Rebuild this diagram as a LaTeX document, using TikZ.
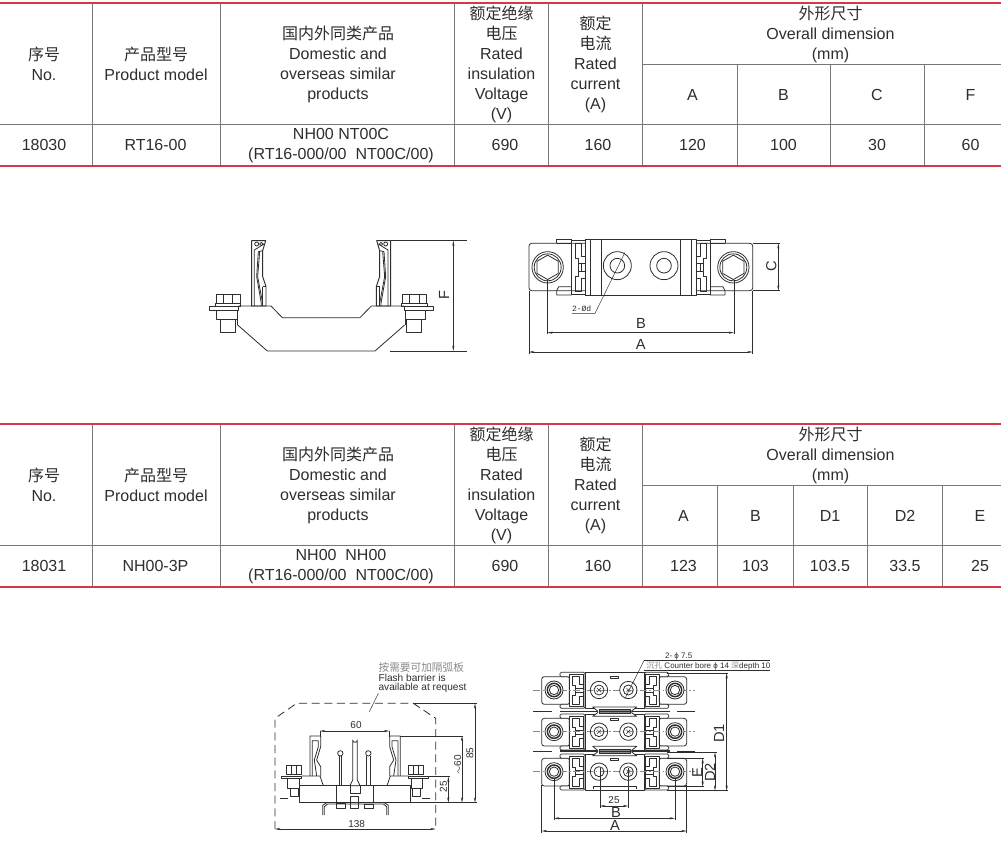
\documentclass[tikz,border=0pt]{standalone}
\usepackage{fontspec}
\setmainfont{Liberation Sans}
\newfontfamily\cjk{Noto Sans CJK SC}
\newfontfamily\monofnt{Liberation Mono}
\usetikzlibrary{calc,arrows.meta}
\definecolor{ink}{HTML}{2E2E2E}
\definecolor{muted}{HTML}{8A8A8A}
\definecolor{rule}{HTML}{D23A4C}
\definecolor{gridc}{HTML}{777777}
\tikzset{
  cell/.style={text=ink, align=center, font=\fontsize{12}{15}\selectfont, inner sep=0pt},
  redline/.style={draw=rule, line width=1.4pt},
  gridline/.style={draw=gridc, line width=0.5pt},
  part/.style={draw=ink, line width=0.6pt, line join=round},
  thin/.style={draw=ink, line width=0.35pt},
  centre/.style={draw=muted, line width=0.35pt, dash pattern=on 5pt off 2pt on 1pt off 2pt},
  barrier/.style={draw=ink, line width=0.6pt, dash pattern=on 6pt off 3.5pt},
  ext/.style={draw=ink, line width=0.35pt},
  dimen/.style={draw=ink, line width=0.35pt, {Stealth[length=4pt,width=1.6pt]}-{Stealth[length=4pt,width=1.6pt]}},
  dimlab/.style={text=ink, font=\fontsize{11}{11}\selectfont, inner sep=0pt},
  minilab/.style={text=ink, font=\fontsize{7.6}{6.8}\selectfont, inner sep=0pt, align=left},
  numlab/.style={text=ink, font=\fontsize{7.5}{8}\selectfont, inner sep=0pt},
}
% bolt seen from above: washer rings and hexagon head
\newcommand{\hexbolt}[3]{
  \draw[part] (#1,#2) circle (#3);
  \draw[part] (#1,#2) circle ({0.86*#3});
  \draw[part] (#1,#2) ++(30:{0.78*#3}) -- ++(150:{0.78*#3}) -- ++(210:{0.78*#3}) -- ++(270:{0.78*#3}) -- ++(330:{0.78*#3}) -- ++(30:{0.78*#3}) -- cycle;
}
% contact clip seen from above, drawing 1
\newcommand{\planclip}{
  \draw[part] (185,60) rectangle (226,222);
  \draw[part] (195,70) -- (195,115) -- (205,115) -- (205,130) -- (226,130);
  \draw[part] (195,70) -- (215,70) -- (215,110) -- (226,110);
  \draw[part] (195,214) -- (195,169) -- (205,169) -- (205,154) -- (226,154);
  \draw[part] (195,214) -- (215,214) -- (215,174) -- (226,174);
  \draw[part] (205,130) -- (205,154) (215,130) -- (215,154);
  \draw[part] (140,70) -- (140,57) -- (185,57) (140,70) -- (185,70);
  \draw[part] (140,212) -- (146,200) -- (185,200) (140,225) -- (185,225) (140,212) -- (140,225);
  \draw[part] (226,57) -- (242,57) (226,225) -- (242,225);
  \draw[part] (242,57) -- (242,225) (273,57) -- (273,225);
}
% contact clip seen from the side, drawing 1
\newcommand{\sideclip}{
  \draw[part, line width=0.7pt] (185,258) -- (185,62) -- (227,62) -- (218,92) -- (218,170) -- (228,200) -- (228,258) -- cycle;
  \draw[part] (193,258) -- (193,90) -- (222,72) (205,95) -- (200,170) -- (214,250) -- (214,258);
  \draw[part] (209,95) -- (203,170) -- (218,250);
  \draw[part] (218,92) -- (205,95) (200,72) circle (6) (214,72) circle (5);
  \draw[part] (218,200) -- (228,200) (218,200) -- (218,258);
}
% one pole of drawing 2, seen from above
\newcommand{\polerow}[1]{
  \begin{scope}[yshift=#1]
    \draw[part, rounded corners=2pt] (65,95) rectangle (500,178);
    \draw[part, fill=white, rounded corners=1pt] (120,82) -- (195,82) -- (195,190) -- (120,190) -- (120,178) -- (148,178) -- (148,95) -- (120,95) -- cycle;
    \draw[part, fill=white, rounded corners=1pt] (446,82) -- (373,82) -- (373,190) -- (446,190) -- (446,178) -- (418,178) -- (418,95) -- (446,95) -- cycle;
    \draw[part, fill=white] (195,82) rectangle (373,190);
    \draw[part] (270,95) rectangle (295,101);
    \foreach \cx/\ck in {148/1,418/-1} {
      \begin{scope}[shift={(\cx,0)},xscale=\ck]
        \draw[part] (0,88) rectangle (43,185);
        \draw[part] (8,95) -- (8,122) -- (18,122) -- (18,130) -- (43,130);
        \draw[part] (8,95) -- (30,95) -- (30,118) -- (43,118);
        \draw[part] (8,178) -- (8,150) -- (18,150) -- (18,142) -- (43,142);
        \draw[part] (8,178) -- (30,178) -- (30,155) -- (43,155);
        \draw[part] (18,130) -- (18,142);
      \end{scope}
    }
    \draw[centre] (40,135) -- (525,135);
    \foreach \bx in {102,465} {
      \draw[part, fill=white] (\bx,135) circle (27);
      \draw[part, line width=1.1pt] (\bx,135) circle (20);
      \draw[part] (\bx,135) circle (14);
    }
  \end{scope}
}
\begin{document}
\begin{tikzpicture}[x=0.75pt,y=-0.75pt]
  \useasboundingbox (0,0) rectangle (1001,846);
  \fill[white] (0,0) rectangle (1001,846);
  %% the two tables share their heading
  \foreach \tb/\ty in {a/0,b/421}{
    \begin{scope}[yshift=-\ty*0.75pt]
      \draw[gridline] (0,124.5) -- (1001,124.5);
      \draw[gridline] (642,64.5) -- (1001,64.5);
      \foreach \vx in {92,220,454,548,642}
        \draw[gridline] (\vx,3) -- (\vx,165);
      \draw[redline] (0,2.7) -- (1001,2.7);
      \draw[redline] (0,165.7) -- (1001,165.7);
      \node[cell] (no\tb) at (44,63.5) {{\cjk 序号}\\No.};
      \node[cell] (model\tb) at (156,63.5) {{\cjk 产品型号}\\Product model};
      \node[cell] (similar\tb) at (338,64.5) {{\cjk 国内外同类产品}\\Domestic and\\overseas similar\\products};
      \node[cell] (volt\tb) at (501.5,64.5) {{\cjk 额定绝缘}\\{\cjk 电压}\\Rated\\insulation\\Voltage\\(V)};
      \node[cell] (amp\tb) at (595.5,64.5) {{\cjk 额定}\\{\cjk 电流}\\Rated\\current\\(A)};
      \node[cell] (overall\tb) at (830.5,34) {{\cjk 外形尺寸}\\Overall dimension\\(mm)};
      \node[cell] (ref\tb) at (505,145) {690};
      \node[cell] (cur\tb) at (598,145) {160};
    \end{scope}
  }
  %% first table, own cells
  \foreach \vx in {737,830,924}
    \draw[gridline] (\vx,65) -- (\vx,165);
  \foreach \nm/\vx/\hd/\val in {a/692.5/A/120,b/783.5/B/100,c/877/C/30,f/970.5/F/60}{
    \node[cell] (hd\nm) at (\vx,94.5) {\hd};
    \node[cell] (val\nm) at (\vx,145) {\val};
  }
  \node[cell] (code1) at (44,145) {18030};
  \node[cell] (type1) at (155.5,145) {RT16-00};
  \node[cell] (alt1) at (341,146) {NH00 NT00C\\(RT16-000/00\ \ NT00C/00)};
  %% second table, own cells
  \foreach \vx in {717.5,793,867.5,942.5}
    \draw[gridline] (\vx,486) -- (\vx,586);
  \foreach \nm/\vx/\hd/\val in {p/683.5/A/123,q/755.5/B/103,r/830/D1/103.5,s/905/D2/33.5,t/980/E/25}{
    \node[cell] (hd\nm) at (\vx,515.5) {\hd};
    \node[cell] (val\nm) at (\vx,566) {\val};
  }
  \node[cell] (code2) at (44,566) {18031};
  \node[cell] (type2) at (155.5,566) {NH00-3P};
  \node[cell] (alt2) at (341,567) {NH00\ \ NH00\\(RT16-000/00\ \ NT00C/00)};

  %% side view, RT16-00
  \begin{scope}[shift={(190,220)},x=0.25pt,y=-0.25pt]
    \foreach \sx/\sk in {0/1,787/-1}{
      \begin{scope}[shift={(\sx,0)},xscale=\sk]
        \sideclip
        \draw[part] (145,258) -- (243,258) -- (277,293) -- (393.5,293);
        \draw[part] (143,315) -- (232,393) -- (393.5,393);
        \draw[part, fill=white] (58,258) -- (145,258) -- (145,270) -- (58,270) -- cycle;
        \draw[part, fill=white] (78,224) rectangle (150,250);
        \draw[part] (100,224) -- (100,250) (128,224) -- (128,250);
        \draw[part] (75,250) rectangle (152,258);
        \draw[part, fill=white] (80,270) rectangle (142,298);
        \draw[part] (92,298) rectangle (137,338);
        \draw[part] (142,270) -- (142,315);
      \end{scope}
    }
    \draw[ext] (602,62) -- (830,62) (600,393) -- (830,393);
    \draw[dimen] (790,62) -- (790,393);
    \node[dimlab, rotate=90] (dimF) at (762,226) {F};
  \end{scope}

  %% plan view, RT16-00
  \begin{scope}[shift={(510,220)},x=0.25pt,y=-0.25pt]
    \draw[part, rounded corners=2pt] (57,70) rectangle (728,212);
    \draw[part, fill=white] (226,57) rectangle (559,225);
    \foreach \sx/\sk in {0/1,785/-1}{
      \begin{scope}[shift={(\sx,0)},xscale=\sk]
        \planclip
      \end{scope}
    }
    \hexbolt{113}{142}{47}
    \hexbolt{670}{142}{47}
    \draw[part] (322,137) circle (42) (322,137) circle (22);
    \draw[part] (462,137) circle (42) (462,137) circle (22);
    \draw[thin] (345,97) -- (255,280) -- (185,280);
    \node[text=ink, font=\monofnt\fontsize{6}{6}\selectfont, inner sep=0pt] (holes) at (215,265) {2-Ød};
    \draw[ext] (112,180) -- (112,343) (672,180) -- (672,343);
    \draw[ext] (57,212) -- (57,402) (728,212) -- (728,402);
    \draw[ext] (728,70) -- (810,70) (728,212) -- (810,212);
    \draw[dimen] (112,338) -- (672,338);
    \draw[dimen] (57,396) -- (728,396);
    \draw[dimen] (805,70) -- (805,212);
    \node[dimlab] (dimB) at (393,311) {B};
    \node[dimlab] (dimA) at (392,374) {A};
    \node[dimlab, rotate=90] (dimC) at (784,140) {C};
  \end{scope}

  %% side view, NH00-3P
  \begin{scope}[shift={(260,650)},x=0.25pt,y=-0.25pt]
    \draw[barrier] (45,537) -- (45,205) -- (110,160) -- (460,160) -- (527,205) -- (527,537);
    \foreach \sx/\sk in {0/1,571/-1}{
      \begin{scope}[shift={(\sx,0)},xscale=\sk]
        \draw[part] (150,378) -- (150,258) -- (182,258) -- (182,290) -- (170,330) -- (182,350) -- (182,378);
        \draw[part] (157,378) -- (157,272) -- (175,272) -- (175,290) -- (163,330) -- (170,378);
        \draw[part] (125,378) -- (180,378) -- (190,407);
        \draw[part, fill=white] (80,347) rectangle (125,372);
        \draw[part] (95,347) -- (95,372) (110,347) -- (110,372);
        \draw[part, fill=white] (65,378) rectangle (125,385);
        \draw[part] (83,385) rectangle (118,415);
        \draw[part] (90,415) -- (90,438) -- (115,438) -- (115,415);
        \draw[part] (60,445) -- (85,445);
      \end{scope}
    }
    \draw[part] (118,407) rectangle (450,458);
    \draw[part] (228,407) -- (228,458) (340,407) -- (340,458);
    \draw[part] (193,495) -- (193,470) -- (203,462) -- (370,462) -- (380,470) -- (380,495);
    \draw[part] (188,495) -- (188,466) -- (200,458) (385,495) -- (385,466) -- (373,458);
    \draw[part] (228,460) rectangle (255,475) (312,462) rectangle (340,475);
    \draw[part] (272,440) rectangle (295,475);
    \draw[part, fill=white] (278,390) -- (278,270) arc (180:0:7) -- (292,390) -- (300,407) -- (270,407) -- cycle;
    \draw[part] (270,407) -- (270,430) -- (300,430) -- (300,407);
    \draw[part] (237,318) -- (237,405) (245,318) -- (245,405);
    \draw[part] (320,318) -- (320,405) (330,318) -- (330,405);
    \draw[part, fill=white] (241,310) circle (8) (325,310) circle (8);
    \draw[thin] (355,130) -- (328,185);
    \node[anchor=west, text=muted, inner sep=0pt, font=\cjk\fontsize{8}{8}\selectfont] (notecn) at (355,53) {按需要可加隔弧板};
    \node[minilab, anchor=west] (noteen) at (355,101) {Flash barrier is\\available at request};
    \draw[ext] (180,243) -- (180,262) (388,243) -- (388,262);
    \draw[dimen] (180,243) -- (388,243);
    \node[numlab] (dim60) at (288,226) {60};
    \draw[ext] (460,160) -- (650,160) (120,458) -- (650,458);
    \draw[ext] (420,258) -- (610,258) (500,380) -- (570,380);
    \draw[dimen] (645,160) -- (645,458);
    \draw[dimen] (606,258) -- (606,458);
    \draw[dimen] (565,380) -- (565,458);
    \node[numlab, rotate=90] (dim85) at (630,310) {85};
    \node[numlab, rotate=90] (dimh) at (593,345) {$\sim$60};
    \node[numlab, rotate=90] (dim25) at (550,410) {25};
    \draw[dimen] (45,537) -- (527,537);
    \node[numlab] (dim138) at (290,521) {138};
  \end{scope}

  %% plan view, NH00-3P
  \begin{scope}[shift={(520,645)},x=0.25pt,y=-0.25pt]
    \polerow{0pt}
    \polerow{-31.25pt}
    \polerow{-61.25pt}
    \foreach \hx/\hy in {237/135,325/135,237/260,325/260,325/380}{
      \draw[part] (\hx,\hy) circle (26) (\hx,\hy) circle (15);
      \draw[thin] (\hx-6,\hy-6) -- (\hx+6,\hy+6) (\hx-6,\hy+6) -- (\hx+6,\hy-6);
    }
    \draw[part] (237,380) circle (26) (237,380) circle (15);
    \draw[part] (220,432) -- (220,425) -- (350,425) -- (350,432);
    \foreach \by in {200,318}{
      \draw[part, line width=0.9pt] (120,\by) -- (450,\by);
      \draw[part] (40,\by) -- (95,\by);
      \draw[part] (470,\by) -- (525,\by);
      \draw[part, fill=white] (218,\by-14) -- (350,\by-14) -- (335,\by-2) -- (335,\by+3) -- (350,\by+14) -- (218,\by+14) -- (233,\by+3) -- (233,\by-2) -- cycle;
      \draw[part, fill=muted] (238,\by-6) rectangle (330,\by+6);
      \draw[part] (238,\by) -- (330,\by);
    }
    \draw[thin] (372,47) -- (315,160);
    \draw[thin] (372,47) -- (750,47) (372,75) -- (750,75);
    \node[inner sep=0pt, text=ink, font=\fontsize{6}{7}\selectfont] (holeno) at (476,34) {2- ϕ 7.5};
    \node[inner sep=0pt, text=ink, anchor=west, font=\fontsize{6}{7}\selectfont] (bore) at (378,62) {{\cjk\color{muted}沉孔} Counter bore ϕ 14 {\cjk\color{muted}深}depth 10};
    \draw[ext] (65,420) -- (65,563) (500,420) -- (500,563);
    \draw[ext] (102,400) -- (102,525) (465,400) -- (465,525);
    \draw[ext] (240,370) -- (240,488) (325,370) -- (325,488);
    \draw[ext] (440,85) -- (625,85) (440,437) -- (625,437);
    \draw[ext] (440,322) -- (590,322) (440,425) -- (553,425) (440,340) -- (553,340);
    \draw[dimen] (620,85) -- (620,437);
    \draw[dimen] (585,322) -- (585,437);
    \draw[dimen] (548,340) -- (548,425);
    \draw[dimen] (65,558) -- (500,558);
    \draw[dimen] (102,520) -- (465,520);
    \draw[dimen] (240,483) -- (325,483);
    \node[dimlab, rotate=90] (dimDa) at (597,265) {D1};
    \node[dimlab, rotate=90] (dimDb) at (570,382) {D2};
    \node[dimlab, rotate=90] (dimE) at (532,382) {E};
    \node[dimlab] (dimAb) at (285,542) {A};
    \node[dimlab] (dimBb) at (288,503) {B};
    \node[numlab] (dim25b) at (282,466) {25};
  \end{scope}
\end{tikzpicture}
\end{document}
